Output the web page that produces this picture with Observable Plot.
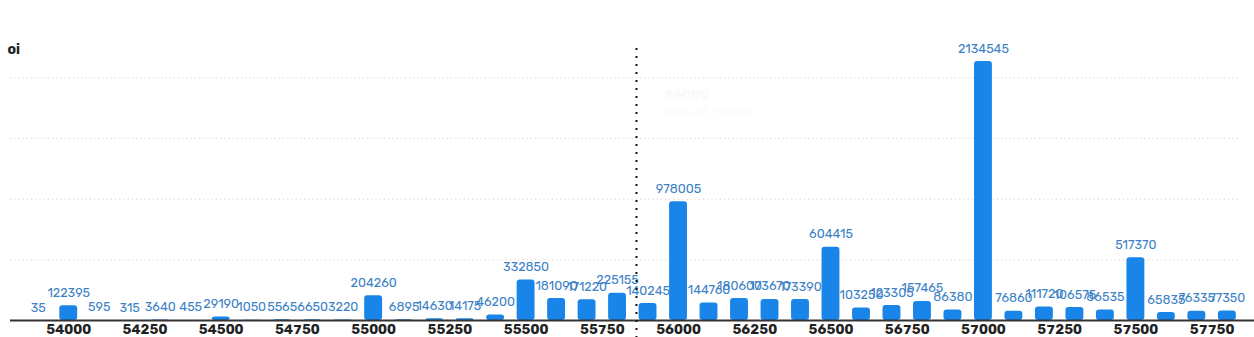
<!DOCTYPE html>
<html>
<head>
<meta charset="utf-8">
<script src="https://cdn.jsdelivr.net/npm/d3@7"></script>
<script src="https://cdn.jsdelivr.net/npm/@observablehq/plot@0.6"></script>
<style>
  html, body { margin: 0; padding: 0; background: #fff; }
  #chart svg { display: block; }
</style>
</head>
<body>
<div id="chart"></div>
<script>
const strikes = [53900, 54000, 54100, 54200, 54300, 54400, 54500, 54600, 54700, 54800,
  54900, 55000, 55100, 55200, 55300, 55400, 55500, 55600, 55700, 55800,
  55900, 56000, 56100, 56200, 56300, 56400, 56500, 56600, 56700, 56800,
  56900, 57000, 57100, 57200, 57300, 57400, 57500, 57600, 57700, 57800];
const callsOi = [35, 122395, 595, 315, 3640, 455, 29190, 1050, 5565, 6650,
  3220, 204260, 6895, 14630, 14175, 46200, 332850, 181090, 171220, 225155,
  140245, 978005, 144760, 180600, 173670, 173390, 604415, 103250, 123305, 157465,
  86380, 2134545, 76860, 111720, 106575, 86535, 517370, 65835, 76335, 77350];
const xTicks = [54000, 54250, 54500, 54750, 55000, 55250, 55500, 55750, 56000, 56250, 56500, 56750, 57000, 57250, 57500, 57750];
const yGrid = [500000, 1000000, 1500000, 2000000];
const spot = 55862;
const hoverStrike = 56000;
const hoverValue = 978005;

const data = strikes.map((s, i) => ({strike: s, oi: callsOi[i]}));
const half = 50;

const chart = Plot.plot({
  width: 1254,
  height: 337,
  marginLeft: 10,
  marginRight: 0,
  marginTop: 61,
  marginBottom: 17,
  style: {fontFamily: "Rubik, 'Open Sans', sans-serif", fontSize: "12px", background: "#fff"},
  x: {domain: [53809, 57889], ticks: xTicks, tickFormat: d => String(d), tickSize: 0, tickPadding: 4, label: null},
  y: {domain: [0, 2134545], axis: null},
  marks: [
    Plot.ruleY(yGrid, {stroke: "#d4d4d4", strokeDasharray: "1.2,3", strokeWidth: 1, insetRight: 14}),
    Plot.rectY(data, {
      x1: d => d.strike - half, x2: d => d.strike + half, y: "oi",
      fill: "#1a85e8", insetLeft: 6.3, insetRight: 6.3, rx: 3
    }),
    Plot.text(data, {
      x: "strike", y: "oi", text: d => String(d.oi),
      dy: -13, fill: "#3c82c6", fontSize: 12.6, textAnchor: "middle"
    }),
    Plot.ruleY([0], {stroke: "#333", strokeWidth: 2}),
    Plot.ruleX([spot], {stroke: "#111", strokeWidth: 2, strokeDasharray: "2,6", insetTop: -13, insetBottom: -17}),
    Plot.text(["oi"], {frameAnchor: "top-left", dx: -3, dy: -17, fontWeight: "bold", fontSize: 14, fill: "#222"}),
    Plot.text([hoverStrike], {x: d => d - 43, y: d => hoverValue * 1.9, text: d => String(d), textAnchor: "start", fontSize: 13, fontWeight: "bold", fill: "#000", opacity: 0.02}),
    Plot.text([hoverStrike], {x: d => d - 40, y: d => hoverValue * 1.76, text: d => "calls_oi: " + hoverValue, textAnchor: "start", fontSize: 11, fill: "#000", opacity: 0.02})
  ]
});
chart.querySelectorAll('[aria-label="x-axis tick label"] text').forEach(t => {
  t.setAttribute("font-weight", "bold");
  t.setAttribute("font-size", "13.5");
  t.setAttribute("fill", "#222");
});
document.getElementById("chart").appendChild(chart);
</script>
</body>
</html>
